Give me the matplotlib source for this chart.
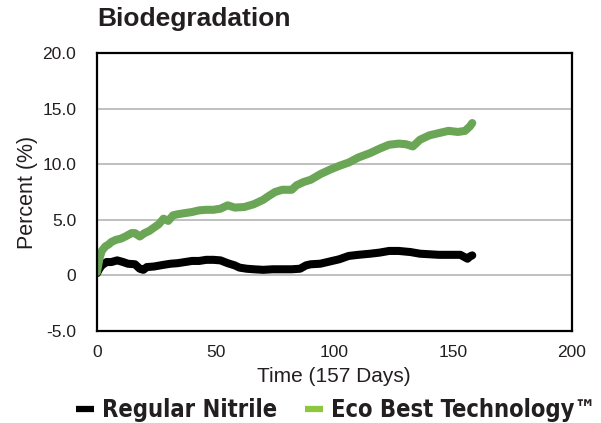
import matplotlib
matplotlib.use("Agg")
import matplotlib.pyplot as plt
from matplotlib.lines import Line2D
from matplotlib.ticker import FuncFormatter
from matplotlib import font_manager as fm

plt.rcParams['font.family'] = ['Liberation Sans', 'DejaVu Sans']

title = "Biodegradation"
x_label = "Time (157 Days)"
y_label = "Percent (%)"
series_names = ["Regular Nitrile", "Eco Best Technology\u2122"]

green_days = [0, 1, 2, 3.5, 5, 6, 8, 10, 12, 14.5, 16, 18, 20, 22, 24, 26, 28, 30, 32, 34,
              37, 40, 43, 46, 49, 52, 55, 58, 62, 66, 70, 72, 75, 78, 82, 84, 87, 90, 94,
              98, 102, 106, 110, 115, 119, 123, 127, 130, 133, 136, 140, 144, 148, 152,
              155, 157, 158]
green_vals = [0.3, 1.5, 2.2, 2.6, 2.8, 3.0, 3.2, 3.3, 3.5, 3.8, 3.8, 3.5, 3.8, 4.0, 4.3,
              4.6, 5.1, 4.9, 5.4, 5.5, 5.6, 5.7, 5.85, 5.9, 5.9, 6.0, 6.3, 6.1, 6.15, 6.4,
              6.8, 7.1, 7.5, 7.7, 7.7, 8.1, 8.4, 8.6, 9.1, 9.5, 9.85, 10.15, 10.6, 11.0,
              11.4, 11.75, 11.85, 11.8, 11.6, 12.2, 12.6, 12.8, 13.0, 12.9, 13.0, 13.4, 13.7]

black_days = [0, 1, 2, 4, 6, 8.5, 11, 13, 16, 18, 19.5, 21, 24, 28, 31, 34, 37, 40, 43, 46,
              49, 52, 55, 58, 60, 63, 66, 70, 74, 78, 82, 85.5, 88, 90, 94, 98, 102, 106,
              110, 115, 119, 123, 127, 132, 136, 140, 144, 148, 153, 156, 157, 158]
black_vals = [0.2, 0.6, 0.9, 1.2, 1.2, 1.35, 1.2, 1.05, 1.0, 0.6, 0.5, 0.75, 0.8, 0.95,
              1.05, 1.1, 1.2, 1.3, 1.3, 1.4, 1.4, 1.35, 1.1, 0.9, 0.7, 0.6, 0.55, 0.5, 0.55,
              0.55, 0.55, 0.6, 0.9, 1.0, 1.05, 1.25, 1.45, 1.75, 1.85, 1.95, 2.05, 2.2, 2.2,
              2.1, 1.95, 1.9, 1.85, 1.85, 1.85, 1.5, 1.7, 1.8]

y_ticks = [-5, 0, 5, 10, 15, 20]
x_ticks = [0, 50, 100, 150, 200]

text_color = '#231f20'
green_line = '#6aa656'
green_legend = '#8dc63f'

# pick an upright condensed bold face for the legend if one is installed
legend_font = None
for f in fm.fontManager.ttflist:
    name = f.name.lower()
    fname = f.fname.lower()
    upright = f.style == 'normal' and 'italic' not in fname and 'oblique' not in fname
    condensed = ('narrow' in name or 'condensed' in name or 'narrow' in fname
                 or 'condensed' in fname or f.stretch in ('condensed', 'semi-condensed'))
    bold = f.weight in ('bold', 700, 'heavy', 800) or 'bold' in fname
    if upright and condensed and bold:
        if legend_font is None or 'liberation' in name:
            legend_font = f
if legend_font is not None:
    legend_prop = fm.FontProperties(fname=legend_font.fname, size=17)
else:
    legend_prop = fm.FontProperties(family=['Liberation Sans'], weight='bold', size=15.5)

fig = plt.figure(figsize=(6.01, 4.23), dpi=100)
ax = fig.add_axes([97/601, 1-331/423, (572-97)/601, (331-53)/423])

ax.plot(black_days, black_vals, color='black', lw=5.8, solid_capstyle='round',
        solid_joinstyle='round', zorder=3)
ax.plot(green_days, green_vals, color=green_line, lw=5.8, solid_capstyle='round',
        solid_joinstyle='round', zorder=3)

ax.set_xlim(0, 200)
ax.set_ylim(-5, 20)
ax.set_xticks(x_ticks)
ax.set_yticks(y_ticks)
ax.yaxis.set_major_formatter(FuncFormatter(lambda v, p: '0' if v == 0 else f'{v:.1f}'))
ax.tick_params(length=0, labelsize=12.5, colors=text_color)
ax.tick_params(axis='y', pad=15)
ax.tick_params(axis='x', pad=10)
ax.grid(axis='y', color='#b5b5b5', lw=1.2, zorder=1)
for s in ax.spines.values():
    s.set_color('black')
    s.set_linewidth(1.6)
    s.set_zorder(4)

fig.text(97/601, 1-19/423, title, fontsize=19, fontweight='bold', color=text_color,
         ha='left', va='center')
fig.text(334/601, 1-377/423, x_label, fontsize=15, color=text_color, ha='center', va='center')
fig.text(27/601, 1-192/423, y_label, fontsize=15.5, color=text_color, ha='center',
         va='center', rotation=90)

handles = [Line2D([], [], color='black', lw=4.5, solid_capstyle='butt'),
           Line2D([], [], color=green_legend, lw=4.5, solid_capstyle='butt')]
fig.legend(handles, series_names, loc='center', bbox_to_anchor=(336/601, 1-410/423),
           ncol=2, frameon=False, handlelength=0.75, handletextpad=0.35,
           columnspacing=1.2, prop=legend_prop, labelcolor=text_color)

fig.savefig('out.png', dpi=100)
